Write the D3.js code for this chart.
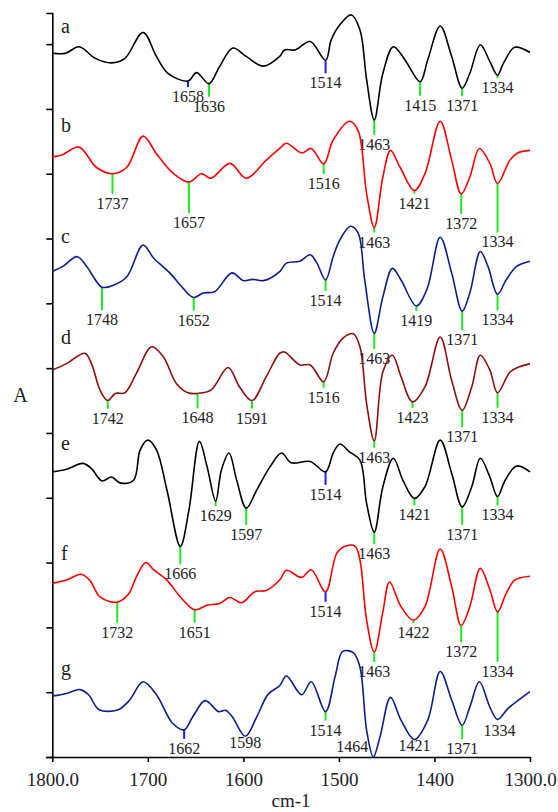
<!DOCTYPE html>
<html>
<head>
<meta charset="utf-8">
<script src="https://cdn.jsdelivr.net/npm/d3@7"></script>
<style>
  body { margin: 0; background: #fff; }
  svg { display: block; }
</style>
</head>
<body>
<div id="wrapper"></div>
<script>
// spectra, [wavenumber, absorbance] (a.u., relative to each trace's baseline)
const traceA = [[1800,0],[1786,0],[1772,10],[1755,-8],[1738,-15],[1724,-8],[1705,32],[1691,-5],[1679,-31],[1658,-43],[1649,-30],[1636,-47],[1625,-21],[1611,8],[1597,-5],[1579,-20],[1562,-5],[1557,5],[1546,5],[1530,18],[1514,-11],[1508,21],[1499,44],[1487,59],[1478,36],[1471,-41],[1463,-103],[1454,-31],[1443,10],[1431,-10],[1415,-44],[1407,-10],[1394,42],[1382,-5],[1371,-54],[1363,-31],[1352,13],[1342,-13],[1334,-34],[1328,-16],[1316,9],[1300,1]]
const traceB = [[1800,0],[1790,3],[1772,15],[1754,-16],[1737,-26],[1722,-16],[1705,32],[1691,5],[1673,-26],[1657,-39],[1644,-26],[1634,-33],[1614,-10],[1597,-33],[1576,-5],[1562,13],[1555,21],[1539,6],[1529,13],[1516,-11],[1506,26],[1489,55],[1480,41],[1471,-57],[1463,-109],[1454,-31],[1446,10],[1436,-16],[1421,-52],[1410,-26],[1394,55],[1382,-5],[1372,-57],[1363,-31],[1353,13],[1342,-10],[1334,-41],[1321,-5],[1313,6],[1300,10]]
const traceC = [[1800,0],[1789,8],[1774,23],[1764,8],[1748,-24],[1736,-21],[1722,-8],[1705,41],[1694,21],[1677,-2],[1663,-26],[1652,-40],[1642,-33],[1630,-31],[1612,-2],[1600,-14],[1590,-12],[1579,-14],[1562,0],[1555,13],[1541,16],[1530,26],[1523,13],[1514,-13],[1506,23],[1499,49],[1488,70],[1480,60],[1473,-13],[1463,-95],[1454,-39],[1444,5],[1435,-13],[1419,-53],[1408,-28],[1394,53],[1382,-2],[1371,-61],[1363,-33],[1352,31],[1344,8],[1334,-35],[1325,-13],[1314,8],[1300,16]]
const traceD = [[1800,0],[1785,10],[1766,26],[1759,10],[1750,-31],[1742,-47],[1734,-36],[1724,-35],[1712,-5],[1696,36],[1684,21],[1670,-21],[1658,-35],[1648,-36],[1634,-31],[1616,4],[1604,-26],[1591,-47],[1576,-10],[1562,26],[1557,28],[1541,8],[1530,8],[1516,-18],[1506,26],[1496,49],[1485,56],[1478,36],[1471,-52],[1463,-109],[1454,-3],[1444,23],[1435,-10],[1423,-49],[1410,-26],[1394,51],[1382,-16],[1371,-62],[1361,-26],[1352,23],[1342,0],[1334,-35],[1321,-3],[1311,5],[1300,10]]
const traceE = [[1800,0],[1785,4],[1768,13],[1759,5],[1748,-14],[1738,-8],[1729,-17],[1715,-13],[1708,34],[1700,49],[1691,34],[1680,-28],[1666,-115],[1657,-59],[1646,47],[1638,8],[1629,-45],[1623,3],[1615,29],[1607,-13],[1597,-56],[1586,-28],[1572,8],[1560,29],[1550,14],[1530,16],[1514,0],[1506,29],[1499,43],[1489,31],[1478,18],[1471,-49],[1463,-93],[1454,-23],[1443,21],[1433,-13],[1421,-41],[1410,-23],[1394,49],[1382,-2],[1371,-54],[1361,-23],[1352,21],[1342,-8],[1334,-38],[1326,-13],[1314,9],[1300,0]]
const traceF = [[1800,0],[1785,5],[1770,14],[1761,5],[1750,-21],[1732,-29],[1720,-16],[1712,10],[1702,32],[1694,21],[1680,5],[1666,-21],[1651,-41],[1638,-34],[1625,-31],[1614,-22],[1602,-30],[1588,-13],[1576,-11],[1562,5],[1555,20],[1539,9],[1529,21],[1514,-13],[1502,47],[1492,58],[1483,57],[1478,36],[1471,-57],[1463,-106],[1454,-44],[1447,2],[1435,-36],[1422,-57],[1410,-36],[1394,53],[1382,-5],[1372,-65],[1363,-36],[1352,23],[1342,-10],[1334,-44],[1325,-16],[1316,5],[1300,11]]
const traceG = [[1800,0],[1785,4],[1771,10],[1762,2],[1751,-21],[1731,-21],[1719,-6],[1705,22],[1691,2],[1674,-42],[1662,-52],[1653,-32],[1640,-7],[1626,-24],[1619,-22],[1612,-31],[1598,-62],[1586,-32],[1574,3],[1562,16],[1555,31],[1539,2],[1529,22],[1514,-24],[1504,30],[1496,69],[1485,67],[1478,45],[1471,-53],[1464,-94],[1457,-63],[1446,-2],[1435,-37],[1421,-67],[1407,-37],[1394,38],[1382,-6],[1371,-45],[1363,-17],[1353,22],[1342,-17],[1334,-36],[1323,-19],[1311,-5],[1300,7]]

const names = ["a","b","c","d","e","f","g"]
const offsets = [1086, 926, 749, 597, 440, 268, 94]

// peak picks: [wavenumber, tone]  b = blue line, g = green line, n = label only
const peaksA = [[1658,"b"],[1636,"g"],[1514,"b"],[1463,"g"],[1415,"g"],[1371,"g"],[1334,"g"]]
const peaksB = [[1737,"g"],[1657,"g"],[1516,"g"],[1463,"g"],[1421,"g"],[1372,"g"],[1334,"g"]]
const peaksC = [[1748,"g"],[1652,"g"],[1514,"g"],[1463,"g"],[1419,"g"],[1371,"g"],[1334,"g"]]
const peaksD = [[1742,"g"],[1648,"g"],[1591,"g"],[1516,"g"],[1463,"g"],[1423,"g"],[1371,"g"],[1334,"g"]]
const peaksE = [[1666,"g"],[1629,"g"],[1597,"g"],[1514,"b"],[1463,"g"],[1421,"g"],[1371,"g"],[1334,"g"]]
const peaksF = [[1732,"g"],[1651,"g"],[1514,"b"],[1463,"g"],[1422,"g"],[1372,"g"],[1334,"g"]]
const peaksG = [[1662,"b"],[1598,"n"],[1514,"g"],[1464,"n"],[1421,"n"],[1371,"g"],[1334,"n"]]

const xTicks = [1800, 1700, 1600, 1500, 1400, 1300]
const xTickLabels = ["1800.0", "1700", "1600", "1500", "1400", "1300.0"]

// layout (px): pick line lengths, or label offset for label-only picks
const dropsA = [6,13,13,15,14,8,3]
const dropsB = [20,31,10,5,3,20,49]
const dropsC = [23,13,11,16,5,19,16]
const dropsD = [8,15,8,6,7,6,17,15]
const dropsE = [18,5,17,13,12,7,18,9]
const dropsF = [21,13,10,10,3,17,50]
const dropsG = [9,12,9,-5,11,14,17]
const labelDxG = [0,0,0,-21,0,0,2]
const letterDy = [-20,-25,-29,-26,-22,-23,-21]

const traces = [traceA, traceB, traceC, traceD, traceE, traceF, traceG]
const peaks = [peaksA, peaksB, peaksC, peaksD, peaksE, peaksF, peaksG]
const drops = [dropsA, dropsB, dropsC, dropsD, dropsE, dropsF, dropsG]
const colors = ["#000000", "#ff0000", "#101c8c", "#8b0f0f", "#000000", "#ff0000", "#101c8c"]
const toneColor = { b: "#1a1aff", g: "#1ee81e" }

const width = 558, height = 812
const serif = "'Liberation Serif', 'Times New Roman', serif"

const svg = d3.select("#wrapper").append("svg")
    .attr("width", width).attr("height", height)

const x = d3.scaleLinear().domain([1800, 1300]).range([52.3, 530])
const y = d3.scaleLinear().domain([0, 1148]).range([757, 13])

// y axis (no labels)
const yAxis = svg.append("g")
    .attr("transform", "translate(52.3,0)")
    .call(d3.axisLeft(y).tickValues(d3.range(0, 1101, 100)).tickSize(6).tickSizeOuter(6).tickFormat(""))
yAxis.selectAll("path, line").attr("stroke", "#000").attr("stroke-width", 1.6)

// x axis
const xAxis = svg.append("g")
    .attr("transform", "translate(0,757)")
    .call(d3.axisBottom(x).tickValues(xTicks).tickSize(5).tickSizeOuter(0)
        .tickFormat((d, i) => xTickLabels[i]))
xAxis.selectAll("path, line").attr("stroke", "#000").attr("stroke-width", 1.6)
xAxis.selectAll("text")
    .attr("y", 29).attr("dy", null)
    .attr("fill", "#222")
    .style("font-family", serif).style("font-size", "19px")

svg.append("text")
    .attr("x", 291).attr("y", 807)
    .attr("text-anchor", "middle")
    .attr("fill", "#222")
    .style("font-family", serif).style("font-size", "19px")
    .text("cm-1")

svg.append("text")
    .attr("x", 20.5).attr("y", 402)
    .attr("text-anchor", "middle")
    .attr("fill", "#222")
    .style("font-family", serif).style("font-size", "20px")
    .text("A")

const line = d3.line().curve(d3.curveCatmullRom.alpha(0.5))

function valueAt(trace, wn) {
    const hit = trace.find(p => p[0] === wn)
    if (hit) return hit[1]
    for (let i = 0; i < trace.length - 1; i++) {
        const [w0, v0] = trace[i], [w1, v1] = trace[i + 1]
        if (wn <= w0 && wn >= w1) return v0 + (v1 - v0) * (w0 - wn) / (w0 - w1)
    }
    return 0
}

traces.forEach((trace, k) => {
    const off = offsets[k]
    const g = svg.append("g")

    // pick lines first so the spectrum is drawn over them
    peaks[k].forEach(([wn, tone], i) => {
        const px = x(wn)
        const py = y(off + valueAt(trace, wn))
        const d = drops[k][i]
        let ly
        if (tone === "n") {
            ly = py + d
        } else {
            g.append("line")
                .attr("x1", px).attr("x2", px)
                .attr("y1", py).attr("y2", py + d)
                .attr("stroke", toneColor[tone]).attr("stroke-width", 2)
            ly = py + d + 15
        }
        const dx = k === 6 ? labelDxG[i] : 0
        g.append("text")
            .attr("x", px + dx).attr("y", ly)
            .attr("text-anchor", "middle")
            .attr("fill", "#222")
            .style("font-family", serif).style("font-size", "16px")
            .text(wn)
    })

    g.append("path")
        .datum(trace.map(p => [x(p[0]), y(off + p[1])]))
        .attr("d", line)
        .attr("fill", "none")
        .attr("stroke", colors[k])
        .attr("stroke-width", 1.6)
        .attr("stroke-linejoin", "round")

    g.append("text")
        .attr("x", 61).attr("y", y(off) + letterDy[k])
        .attr("fill", "#222")
        .style("font-family", serif).style("font-size", "20px")
        .text(names[k])
})
</script>
</body>
</html>
